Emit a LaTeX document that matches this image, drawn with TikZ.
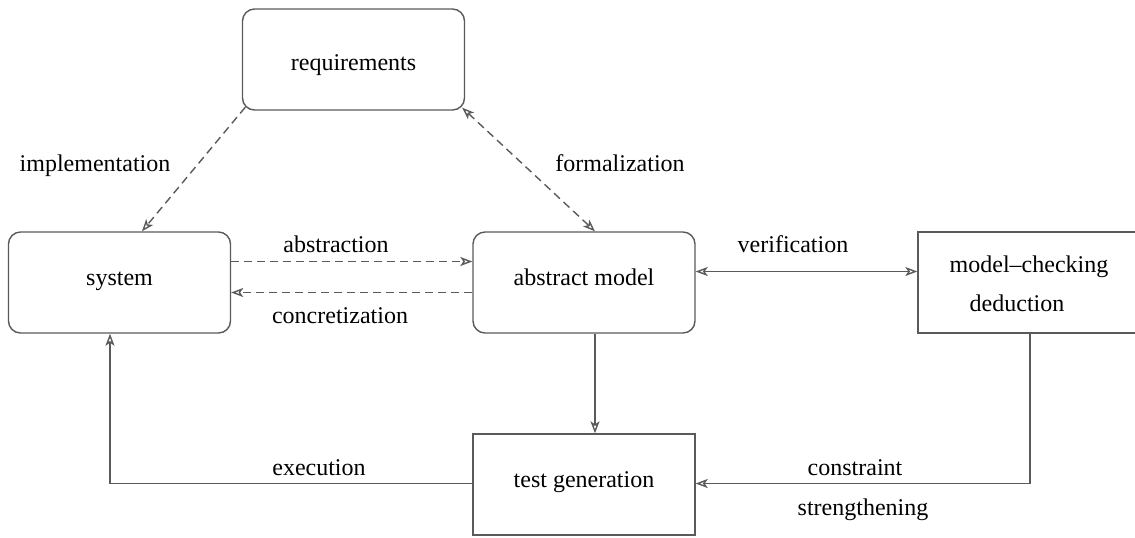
\documentclass[tikz,border=0pt]{standalone}
\usepackage{fontspec}
\setmainfont{Liberation Serif}
\usetikzlibrary{arrows.meta,calc}
\definecolor{linegray}{RGB}{90,90,90}
\begin{document}
\begin{tikzpicture}[x=0.5pt,y=-0.5pt,
  font=\fontsize{12}{14.5}\selectfont,
  box/.style={draw=linegray, line width=0.7pt, minimum width=111pt, minimum height=50.5pt,
    inner sep=0pt, text height=8pt, text depth=4.6pt},
  roundbox/.style={box, rounded corners=6pt},
  lbl/.style={inner sep=0pt, text height=9pt, text depth=0.6pt},
  conn/.style={draw=linegray, line width=0.7pt},
  dashconn/.style={conn, dash pattern=on 4pt off 2.5pt},
  >={Stealth[open,length=6pt,width=4.5pt,inset=1.5pt]}
]
\useasboundingbox (0,0) rectangle (1135,537);
\clip (0,0) rectangle (1135,537);

\node[roundbox, text height=11pt, text depth=0.1pt] (req) at (353.5,59.5) {requirements};
\node[roundbox] (sys) at (119.5,282.5) {system};
\node[roundbox] (am)  at (584,282.5) {abstract model};
\node[box, text height=, text depth=, align=center] (mc) at (1029,282.5) {\rule{0pt}{10pt}model--checking\\[5pt]deduction\hspace*{12pt}};
\node[box] (tg) at (584,484.5) {test generation};

% connectors
\draw[dashconn,->] ($(req.south west)+(3.5,-3.5)$) coordinate (impS) -- ($(sys.north)+(22.5,0)$) coordinate (impE);
\draw[dashconn,<->] ($(req.south east)+(-3,-3)$) coordinate (forS) -- ($(am.north)+(11,0)$) coordinate (forE);
\draw[dashconn,->] ($(sys.east)+(0,-21)$) coordinate (absS) -- ($(am.west)+(0,-21)$) coordinate (absE);
\draw[dashconn,->] ($(am.west)+(0,10)$) coordinate (conS) -- ($(sys.east)+(0,10)$) coordinate (conE);
\draw[conn,<->] ($(am.east)+(0,-11)$) coordinate (verS) -- ($(mc.west)+(0,-11)$) coordinate (verE);
\draw[conn,->] ($(am.south)+(11,0)$) coordinate (genS) -- ($(tg.north)+(11,0)$) coordinate (genE);
\draw[conn,->] ($(tg.west)+(0,-1)$) coordinate (exeS) -| ($(sys.south)+(-9.5,0)$) coordinate (exeE);
\draw[conn,->] ($(mc.south)+(1,0)$) coordinate (csS) |- ($(tg.east)+(0,-1)$) coordinate (csE);

% labels
\node[lbl] (limp) at (95,163) {implementation};
\node[lbl] (lfor) at (620,163) {formalization};
\node[lbl] (labs) at (336,244) {abstraction};
\node[lbl] (lcon) at (340,315) {concretization};
\node[lbl] (lver) at (793,244) {verification};
\node[lbl] (lexe) at (319,467) {execution};
\node[lbl] (lcs1) at (855,467) {constraint};
\node[lbl] (lcs2) at (863,507) {strengthening};
\end{tikzpicture}
\end{document}
